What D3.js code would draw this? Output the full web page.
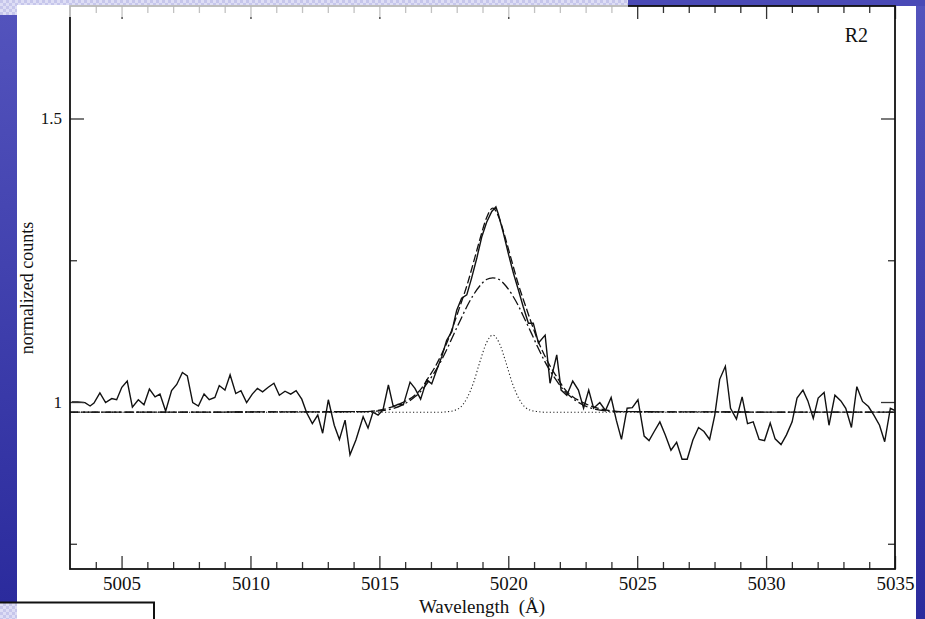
<!DOCTYPE html>
<html><head><meta charset="utf-8">
<script src="https://cdn.jsdelivr.net/npm/d3@7/dist/d3.min.js"></script>
<style>html,body{margin:0;padding:0;background:#fff;overflow:hidden}svg{display:block}</style>
</head><body>
<script>
// ---------- data ----------
const wavelength = [
5003.07,5003.30,5003.58,5003.78,5003.93,5004.16,5004.38,5004.62,5004.81,5005.01,
5005.22,5005.42,5005.65,5005.87,5006.08,5006.30,5006.49,5006.71,5006.94,5007.14,
5007.36,5007.55,5007.76,5007.98,5008.20,5008.40,5008.62,5008.79,5009.01,5009.21,
5009.43,5009.63,5009.85,5010.07,5010.27,5010.47,5010.69,5010.91,5011.12,5011.34,
5011.56,5011.77,5011.99,5012.18,5012.40,5012.61,5012.80,5013.02,5013.25,5013.45,
5013.67,5013.86,5014.09,5014.37,5014.56,5014.75,5014.95,5015.14,5015.35,5015.54,
5015.73,5015.93,5016.19,5016.38,5016.60,5016.84,5017.03,5017.22,5017.42,5017.61,
5017.81,5018.00,5018.19,5018.39,5018.58,5018.78,5018.97,5019.16,5019.36,5019.52,
5019.61,5019.81,5020.00,5020.20,5020.39,5020.58,5020.78,5020.97,5021.17,5021.43,
5021.62,5021.88,5022.05,5022.27,5022.50,5022.72,5022.92,5023.12,5023.31,5023.55,
5023.77,5023.99,5024.19,5024.39,5024.61,5024.81,5025.03,5025.27,5025.46,5025.66,
5025.88,5026.09,5026.31,5026.53,5026.74,5026.94,5027.16,5027.38,5027.59,5027.81,
5028.01,5028.20,5028.42,5028.62,5028.85,5029.07,5029.28,5029.50,5029.73,5029.94,
5030.16,5030.35,5030.58,5030.79,5031.01,5031.20,5031.43,5031.62,5031.83,5032.02,
5032.25,5032.44,5032.67,5032.90,5033.09,5033.31,5033.52,5033.74,5033.97,5034.18,
5034.40,5034.60,5034.82,5035.00];
const counts = [
1.000,1.000,0.999,0.993,0.998,1.016,0.999,1.006,1.004,1.026,
1.037,0.991,1.004,0.995,1.023,1.009,1.014,0.984,1.020,1.031,
1.052,1.046,0.999,0.993,1.014,1.004,1.008,1.029,1.021,1.048,
1.015,1.020,0.999,1.014,1.024,1.018,1.026,1.033,1.012,1.019,
1.014,1.020,1.005,0.981,0.962,0.977,0.945,1.004,0.959,0.934,
0.968,0.907,0.933,0.974,0.954,0.982,0.977,0.986,1.030,0.992,
0.996,0.995,1.035,1.024,1.005,1.039,1.032,1.056,1.080,1.109,
1.124,1.162,1.183,1.189,1.219,1.254,1.291,1.317,1.336,1.344,
1.332,1.298,1.262,1.227,1.198,1.168,1.139,1.139,1.104,1.118,
1.033,1.083,1.021,1.012,1.037,1.021,0.989,1.021,0.989,0.999,
0.985,1.008,0.968,0.934,0.989,0.990,1.004,0.940,0.932,0.948,
0.965,0.942,0.915,0.929,0.899,0.899,0.933,0.955,0.948,0.934,
0.977,1.040,1.063,0.989,0.970,1.009,0.962,0.965,0.934,0.932,
0.963,0.935,0.925,0.942,0.965,1.007,1.021,1.002,0.971,1.007,
1.017,0.959,1.012,1.002,0.989,0.955,1.027,1.001,0.992,0.977,
0.959,0.930,0.989,0.985];

const modelWavelength = [5003,
5014.4,5014.9,5015.4,5015.9,5016.4,5016.65,5016.9,5017.15,5017.4,5017.65,5017.9,5018.15,5018.4,5018.65,5018.9,5019.15,
5019.4,
5019.65,5019.9,5020.15,5020.4,5020.65,5020.9,5021.15,5021.4,5021.65,5021.9,5022.15,5022.4,5022.9,5023.4,5023.9,5024.4,
5035];
const totalFit = [0.982,
0.983,0.985,0.990,0.999,1.013,1.025,1.043,1.061,1.083,1.108,1.139,1.172,1.206,1.246,1.287,1.324,
1.342,
1.324,1.287,1.246,1.206,1.172,1.139,1.108,1.083,1.061,1.043,1.025,1.013,0.999,0.990,0.985,0.983,
0.982];
const broadFit = [0.982,
0.983,0.984,0.987,0.995,1.010,1.021,1.036,1.053,1.073,1.096,1.121,1.145,1.169,1.189,1.205,1.216,
1.219,
1.216,1.205,1.189,1.169,1.145,1.121,1.096,1.073,1.053,1.036,1.021,1.010,0.995,0.987,0.984,0.983,
0.982];
const narrowFit = [0.982,
0.982,0.982,0.982,0.982,0.982,0.982,0.982,0.982,0.982,0.983,0.985,0.991,1.007,1.034,1.071,1.104,
1.118,
1.104,1.071,1.034,1.007,0.991,0.985,0.983,0.982,0.982,0.982,0.982,0.982,0.982,0.982,0.982,0.982,
0.982];

const xMajorTicks = [5005, 5010, 5015, 5020, 5025, 5030, 5035];
const yMajorTicks = [1, 1.5];
const yMinorTicks = [0.75, 1.25];
const xLabel = "Wavelength  (\u00C5)";
const yLabel = "normalized counts";
const panelLabel = "R2";

// ---------- layout ----------
const W = 925, H = 619;
const L = 70, R = 895, T = 6, B = 569;
const serif = "'Liberation Serif','Times New Roman',serif";

const svg = d3.select("body").append("svg").attr("width", W).attr("height", H);
const defs = svg.append("defs");
const pat = defs.append("pattern").attr("id","chk").attr("width",6).attr("height",6).attr("patternUnits","userSpaceOnUse");
pat.append("rect").attr("width",6).attr("height",6).attr("fill","#dedef5");
pat.append("rect").attr("width",3).attr("height",3).attr("fill","#c6c6eb");
pat.append("rect").attr("x",3).attr("y",3).attr("width",3).attr("height",3).attr("fill","#c6c6eb");
const grad = defs.append("linearGradient").attr("id","blue").attr("x1",0).attr("y1",0).attr("x2",0).attr("y2",1);
grad.append("stop").attr("offset","0%").attr("stop-color","#5454bd");
grad.append("stop").attr("offset","100%").attr("stop-color","#2b2b9d");
defs.append("clipPath").attr("id","plotclip").append("rect")
  .attr("x",L).attr("y",T).attr("width",R-L).attr("height",B-T);

// background slide
svg.append("rect").attr("width",W).attr("height",H).attr("fill","#fff");
svg.append("rect").attr("x",0).attr("y",0).attr("width",17).attr("height",602).attr("fill","url(#blue)");
svg.append("rect").attr("x",916).attr("y",0).attr("width",9).attr("height",H).attr("fill","url(#blue)");
svg.append("rect").attr("x",628).attr("y",0).attr("width",297).attr("height",6).attr("fill","#4a4ab6");

// scales
const x = d3.scaleLinear().domain([5003, 5035]).range([L, R]);
const y = d3.scaleLinear().domain([0.7055, 1.6984]).range([B, T]);

const g = svg.append("g");

// lines
const plot = g.append("g").attr("clip-path","url(#plotclip)");
const mline = arr => d3.line().curve(d3.curveMonotoneX)
  .x((d,i) => x(modelWavelength[i])).y(d => y(d))(arr);
plot.append("path").attr("d", mline(narrowFit)).attr("fill","none")
  .attr("stroke","#222").attr("stroke-width",1.1).attr("stroke-dasharray","1.2,2.3");
plot.append("path").attr("d", mline(broadFit)).attr("fill","none")
  .attr("stroke","#111").attr("stroke-width",1.3).attr("stroke-dasharray","10,3,2,3");
plot.append("path").attr("d", mline(totalFit)).attr("fill","none")
  .attr("stroke","#111").attr("stroke-width",1.3).attr("stroke-dasharray","8,3");
const spec = d3.zip(wavelength, counts);
plot.append("path").attr("d", d3.line().x(d => x(d[0])).y(d => y(d[1]))(spec))
  .attr("fill","none").attr("stroke","#111").attr("stroke-width",1.4).attr("stroke-linejoin","miter");

// axes (inward ticks)
const xMinor = d3.range(5004, 5035).filter(v => v % 5 !== 0);
function styleAxis(sel){
  sel.select(".domain").remove();
  sel.selectAll("line").attr("stroke","#333").attr("stroke-width",1.3);
}
g.append("g").attr("transform",`translate(0,${B})`)
  .call(d3.axisBottom(x).tickValues(xMinor).tickSizeInner(-7).tickSizeOuter(0).tickFormat(""))
  .call(styleAxis);
const bx = g.append("g").attr("transform",`translate(0,${B})`)
  .call(d3.axisBottom(x).tickValues(xMajorTicks).tickSizeInner(-13).tickSizeOuter(0).tickFormat(d3.format("d")))
  .call(styleAxis);
bx.selectAll("text").attr("y",21).attr("dy",0).attr("fill","#111")
  .style("font-family",serif).style("font-size","19px");
g.append("g").attr("transform",`translate(0,${T})`)
  .call(d3.axisTop(x).tickValues(xMinor).tickSizeInner(-7).tickSizeOuter(0).tickFormat(""))
  .call(styleAxis);
g.append("g").attr("transform",`translate(0,${T})`)
  .call(d3.axisTop(x).tickValues(xMajorTicks).tickSizeInner(-13).tickSizeOuter(0).tickFormat(""))
  .call(styleAxis);

const ly = g.append("g").attr("transform",`translate(${L},0)`)
  .call(d3.axisLeft(y).tickValues(yMajorTicks).tickSizeInner(-14).tickSizeOuter(0).tickFormat(d3.format("")))
  .call(styleAxis);
ly.selectAll("text").attr("x",-8).attr("fill","#111")
  .style("font-family",serif).style("font-size","17px");
g.append("g").attr("transform",`translate(${L},0)`)
  .call(d3.axisLeft(y).tickValues(yMinorTicks).tickSizeInner(-7).tickSizeOuter(0).tickFormat(""))
  .call(styleAxis);
g.append("g").attr("transform",`translate(${R},0)`)
  .call(d3.axisRight(y).tickValues(yMajorTicks).tickSizeInner(-14).tickSizeOuter(0).tickFormat(""))
  .call(styleAxis);
g.append("g").attr("transform",`translate(${R},0)`)
  .call(d3.axisRight(y).tickValues(yMinorTicks).tickSizeInner(-7).tickSizeOuter(0).tickFormat(""))
  .call(styleAxis);

// frame
g.append("rect").attr("x",L).attr("y",T).attr("width",R-L).attr("height",B-T)
  .attr("fill","none").attr("stroke","#111").attr("stroke-width",1.8);

// labels
g.append("text").attr("x",482).attr("y",613).attr("text-anchor","middle")
  .style("font-family",serif).style("font-size","19px").style("white-space","pre")
  .attr("fill","#111").text(xLabel);
g.append("text").attr("transform","translate(33,288) rotate(-90)").attr("text-anchor","middle")
  .style("font-family",serif).style("font-size","18px").attr("fill","#111").text(yLabel);
g.append("text").attr("x",868).attr("y",42).attr("text-anchor","end")
  .style("font-family",serif).style("font-size","20px").attr("fill","#111").text(panelLabel);

// slide overlay bits (faded top strip, checkered bands, box)
svg.append("rect").attr("x",17).attr("y",5).attr("width",611).attr("height",12).attr("fill","#fff").attr("opacity",0.7);
svg.append("rect").attr("x",0).attr("y",0).attr("width",628).attr("height",5).attr("fill","url(#chk)");
svg.append("rect").attr("x",0).attr("y",0).attr("width",17).attr("height",15).attr("fill","url(#chk)");
svg.append("rect").attr("x",0).attr("y",602).attr("width",17).attr("height",17).attr("fill","url(#chk)");
svg.append("rect").attr("x",17).attr("y",603).attr("width",137).attr("height",16).attr("fill","#fff");
svg.append("path").attr("d","M0,602.5 H154 V619").attr("fill","none").attr("stroke","#111").attr("stroke-width",2);
</script>
</body></html>
